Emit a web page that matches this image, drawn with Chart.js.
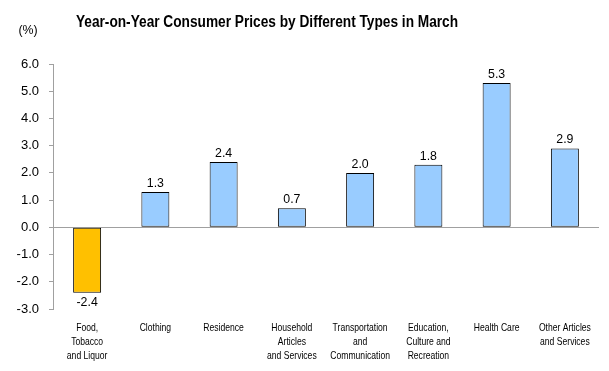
<!DOCTYPE html>
<html>
<head>
<meta charset="utf-8">
<script src="https://cdn.jsdelivr.net/npm/chart.js@4"></script>
<style>
html,body{margin:0;padding:0;background:#fff;}
#wrap{width:609px;height:371px;position:relative;}
</style>
</head>
<body>
<div id="wrap"><canvas id="c" width="609" height="371"></canvas></div>
<script>
const categories = [
  ["Food,", "Tobacco", "and Liquor"],
  ["Clothing"],
  ["Residence"],
  ["Household", "Articles", "and Services"],
  ["Transportation", "and", "Communication"],
  ["Education,", "Culture and", "Recreation"],
  ["Health Care"],
  ["Other Articles", "and Services"]
];
const barValues = [-2.4, 1.3, 2.4, 0.7, 2.0, 2.3, 5.3, 2.9];
const valueLabels = ["-2.4", "1.3", "2.4", "0.7", "2.0", "1.8", "5.3", "2.9"];
const yTicks = [-3, -2, -1, 0, 1, 2, 3, 4, 5, 6];
const titleText = "Year-on-Year Consumer Prices by Different Types in March";
const unitText = "(%)";

const barColors = barValues.map(v => v < 0 ? "#FFC000" : "#99CCFF");

function scaledText(ctx, text, x, y, sx) {
  ctx.save();
  ctx.translate(x, y);
  ctx.scale(sx, 1);
  ctx.fillText(text, 0, 0);
  ctx.restore();
}

const extras = {
  id: "extras",
  beforeDatasetsDraw(chart) {
    const ctx = chart.ctx, y = chart.scales.y, a = chart.chartArea;
    const y0 = Math.round(y.getPixelForValue(0)) + 0.5;
    ctx.save();
    ctx.strokeStyle = "#A0A0A0";
    ctx.lineWidth = 1;
    ctx.beginPath();
    ctx.moveTo(a.left, y0);
    ctx.lineTo(a.right, y0);
    ctx.stroke();
    ctx.restore();
  },
  afterDraw(chart) {
    const ctx = chart.ctx;
    const a = chart.chartArea;
    ctx.save();
    ctx.fillStyle = "#000";
    ctx.font = "bold 16px 'Liberation Sans', Arial, sans-serif";
    ctx.textAlign = "center";
    ctx.textBaseline = "middle";
    scaledText(ctx, titleText, 267, 23, 0.855);
    ctx.font = "13px 'Liberation Sans', Arial, sans-serif";
    scaledText(ctx, unitText, 28, 30, 0.95);
    const meta = chart.getDatasetMeta(0);
    meta.data.forEach((bar, i) => {
      const v = barValues[i];
      ctx.font = "13px 'Liberation Sans', Arial, sans-serif";
      if (v >= 0) {
        ctx.textBaseline = "bottom";
        scaledText(ctx, valueLabels[i], bar.x, bar.y - 2, 0.95);
      } else {
        ctx.textBaseline = "top";
        scaledText(ctx, valueLabels[i], bar.x, bar.y + 3, 0.95);
      }
      ctx.font = "11px 'Liberation Sans', Arial, sans-serif";
      ctx.textBaseline = "top";
      categories[i].forEach((line, j) => {
        scaledText(ctx, line, bar.x, a.bottom + 13 + j * 14, 0.78);
      });
    });
    ctx.restore();
  }
};

new Chart(document.getElementById("c"), {
  type: "bar",
  data: {
    labels: categories,
    datasets: [{
      data: barValues,
      backgroundColor: barColors,
      borderColor: "#000",
      borderWidth: 1,
      borderSkipped: false,
      categoryPercentage: 1.0,
      barPercentage: 0.41
    }]
  },
  options: {
    responsive: false,
    animation: false,
    devicePixelRatio: 1,
    layout: { padding: { top: 64, right: 10, left: 0, bottom: 0 } },
    plugins: { legend: { display: false }, title: { display: false }, tooltip: { enabled: false } },
    scales: {
      x: {
        grid: { display: false },
        border: { display: false },
        ticks: { display: false },
        afterFit(s) { s.height = 62; }
      },
      y: {
        min: -3, max: 6,
        afterBuildTicks(s) { s.ticks = yTicks.map(v => ({ value: v })); },
        grid: { drawOnChartArea: false, color: "#A0A0A0", tickLength: 4 },
        border: { color: "#A0A0A0" },
        ticks: {
          color: "#000",
          font: { family: "'Liberation Sans', Arial, sans-serif", size: 13 },
          padding: 10,
          callback: v => v.toFixed(1)
        },
        afterFit(s) { s.width = 53; }
      }
    }
  },
  plugins: [extras]
});
</script>
</body>
</html>
